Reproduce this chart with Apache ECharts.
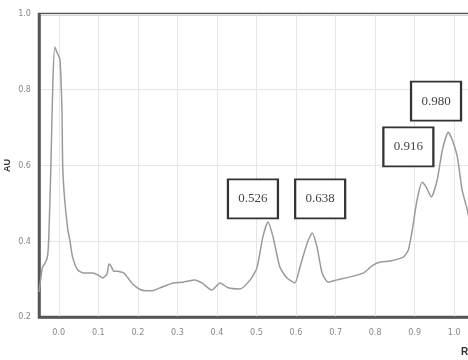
<!DOCTYPE html>
<html>
<head>
<meta charset="utf-8">
<script src="https://cdn.jsdelivr.net/npm/echarts@6/dist/echarts.min.js"></script>
<style>
html,body{margin:0;padding:0;background:#fff;}
#c{width:468px;height:360px;}
</style>
</head>
<body>
<div id="c"></div>
<script>
// Rf positions of the trace
var rfValues = [-0.050,-0.046,-0.041,-0.033,-0.028,-0.025,-0.020,-0.015,-0.010,-0.005,0.003,0.008,0.010,0.015,0.023,0.028,0.035,0.048,0.063,0.086,0.099,0.111,0.122,0.127,0.132,0.139,0.149,0.157,0.165,0.175,0.187,0.203,0.220,0.235,0.256,0.289,0.314,0.344,0.362,0.387,0.408,0.428,0.458,0.484,0.501,0.516,0.529,0.542,0.559,0.577,0.597,0.610,0.628,0.641,0.653,0.666,0.681,0.704,0.737,0.770,0.795,0.813,0.838,0.871,0.884,0.894,0.906,0.919,0.929,0.942,0.957,0.970,0.985,0.995,1.008,1.020,1.033,1.046];
// absorbance (AU) at each Rf
var auValues = [0.266,0.298,0.332,0.345,0.364,0.417,0.596,0.818,0.913,0.900,0.879,0.747,0.596,0.509,0.430,0.403,0.358,0.324,0.316,0.316,0.311,0.303,0.314,0.340,0.335,0.321,0.321,0.319,0.316,0.303,0.287,0.274,0.269,0.269,0.277,0.290,0.292,0.298,0.290,0.271,0.290,0.277,0.274,0.298,0.329,0.411,0.451,0.411,0.332,0.303,0.290,0.332,0.395,0.422,0.385,0.316,0.292,0.298,0.306,0.316,0.337,0.345,0.348,0.358,0.377,0.430,0.509,0.556,0.543,0.517,0.562,0.641,0.688,0.668,0.622,0.535,0.483,0.417];
// peak annotations
var peakLabels = ['0.526','0.638','0.916','0.980'];
var peakBoxRf = [0.491,0.661,0.884,0.954];
var peakBoxAu = [0.512,0.512,0.649,0.770];
// tick labels
var xTicks = [0,0.1,0.2,0.3,0.4,0.5,0.6,0.7,0.8,0.9,1.0];

var seriesData = rfValues.map(function(x,i){return [x, auValues[i]];});
var markData = peakLabels.map(function(t,i){
  return {coord:[peakBoxRf[i], peakBoxAu[i]], value:t};
});

var chart = echarts.init(document.getElementById('c'), null, {renderer:'canvas'});
var tickFont = "'Liberation Sans Narrow','DejaVu Sans Condensed','Liberation Sans',sans-serif";
chart.setOption({
  animation:false,
  backgroundColor:'#fff',
  grid:{left:39, top:14, right:-6, bottom:43, outerBoundsMode:'none', containLabel:false,
    show:true, borderColor:'#555', borderWidth:2.5, backgroundColor:'transparent'},
  xAxis:{
    type:'value', min:-0.05, max:1.05,
    name:'Rf', nameLocation:'end', nameGap:-13, nameMoveOverlap:false,
    nameTextStyle:{color:'#333', fontSize:10, fontWeight:'bold', align:'left', verticalAlign:'top', padding:[30,0,0,0]},
    axisLine:{show:true, onZero:false, lineStyle:{color:'#555', width:2.5}},
    axisTick:{show:false, customValues:xTicks},
    axisLabel:{customValues:xTicks, color:'#888', fontSize:9, fontFamily:tickFont, margin:11,
      formatter:function(v){return v.toFixed(1);}},
    splitLine:{show:true, lineStyle:{color:'#e6e6e6', width:1}}
  },
  yAxis:{
    type:'value', min:0.2, max:1.0, interval:0.2,
    name:'AU', nameLocation:'middle', nameGap:27, nameMoveOverlap:false,
    nameTextStyle:{color:'#333', fontSize:9, fontWeight:'bold'},
    axisLine:{show:true, onZero:false, lineStyle:{color:'#555', width:2.5}},
    axisTick:{show:false},
    axisLabel:{color:'#888', fontSize:9, fontFamily:tickFont, margin:8,
      formatter:function(v){return v.toFixed(1);}},
    splitLine:{show:true, lineStyle:{color:'#e6e6e6', width:1}}
  },
  series:[{
    type:'line', data:seriesData, smooth:0.2, showSymbol:false, symbol:'none',
    lineStyle:{color:'#9a9a9a', width:1.5},
    clip:true,
    markPoint:{
      symbol:'rect', symbolSize:[50,39],
      itemStyle:{color:'#fff', borderColor:'#333', borderWidth:2},
      label:{show:true, position:'inside', color:'#444', fontSize:13, fontFamily:"'Liberation Serif','Times New Roman',serif",
        formatter:function(p){return p.value;}},
      data:markData
    }
  }]
});
</script>
</body>
</html>
